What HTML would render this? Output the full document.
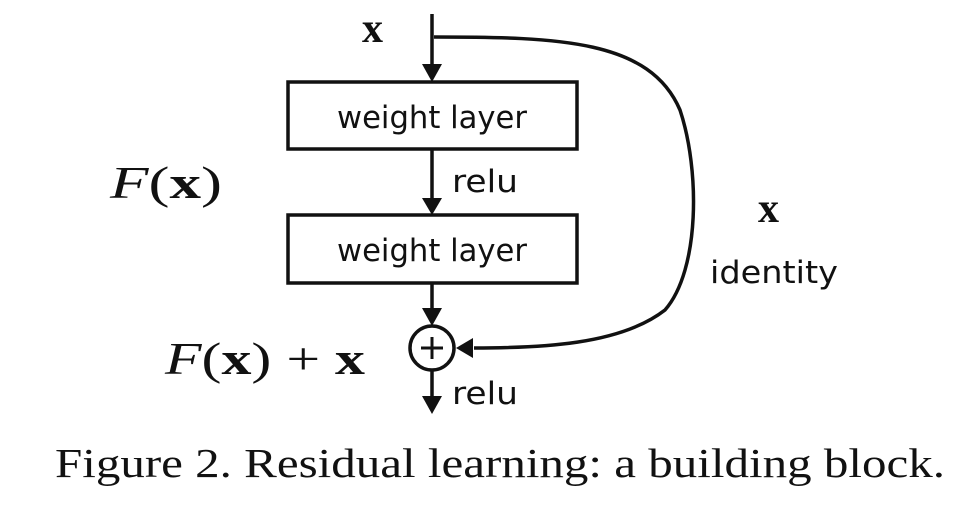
<!DOCTYPE html>
<html><head><meta charset="utf-8"><style>
html,body{margin:0;padding:0;background:#fff;}
svg{display:block;}
.s{font-family:"DejaVu Sans","Liberation Sans",sans-serif;font-size:31px;fill:#111;}
.m{font-family:"Liberation Serif","DejaVu Serif",serif;fill:#111;}
</style></head><body>
<svg width="953" height="524" viewBox="0 0 953 524" xmlns="http://www.w3.org/2000/svg">
<g stroke="#111" stroke-width="3.5" fill="none">
<line x1="432" y1="14" x2="432" y2="66"/>
<rect x="288" y="82" width="289" height="67"/>
<line x1="432" y1="149" x2="432" y2="200"/>
<rect x="288" y="215" width="289" height="68"/>
<line x1="432" y1="283" x2="432" y2="310"/>
<circle cx="432" cy="348" r="22"/>
<line x1="421" y1="348" x2="443" y2="348" stroke-width="3"/>
<line x1="432" y1="337" x2="432" y2="359" stroke-width="3"/>
<line x1="432" y1="370" x2="432" y2="398"/>
<path d="M434 37 C 560 37, 650 40, 680 110 C 700 170, 700 270, 665 310 C 620 345, 540 348, 474 348"/>
</g>
<g fill="#111">
<polygon points="422,64 442,64 432,82"/>
<polygon points="422,198 442,198 432,215"/>
<polygon points="422,308 442,308 432,326"/>
<polygon points="422,396 442,396 432,414"/>
<polygon points="473,338 473,358 456,348"/>
</g>
<text class="s" x="432" y="128" text-anchor="middle" textLength="190" lengthAdjust="spacingAndGlyphs">weight layer</text>
<text class="s" x="432" y="261" text-anchor="middle" textLength="190" lengthAdjust="spacingAndGlyphs">weight layer</text>
<text class="s" x="452" y="192" textLength="66" lengthAdjust="spacingAndGlyphs">relu</text>
<text class="s" x="452" y="404" textLength="66" lengthAdjust="spacingAndGlyphs">relu</text>
<text class="s" x="710" y="283" textLength="128" lengthAdjust="spacingAndGlyphs">identity</text>
<text class="m" x="362" y="42" font-size="42" font-weight="bold">x</text>
<text class="m" x="758" y="222" font-size="42" font-weight="bold">x</text>
<text class="m" x="110" y="198" font-size="46" textLength="112" lengthAdjust="spacingAndGlyphs"><tspan font-style="italic">F</tspan>(<tspan font-weight="bold">x</tspan>)</text>
<text class="m" x="165" y="374" font-size="46" textLength="200" lengthAdjust="spacingAndGlyphs"><tspan font-style="italic">F</tspan>(<tspan font-weight="bold">x</tspan>) + <tspan font-weight="bold">x</tspan></text>
<text class="m" x="55" y="477" font-size="41" textLength="890" lengthAdjust="spacingAndGlyphs">Figure 2. Residual learning: a building block.</text>
</svg>
</body></html>
